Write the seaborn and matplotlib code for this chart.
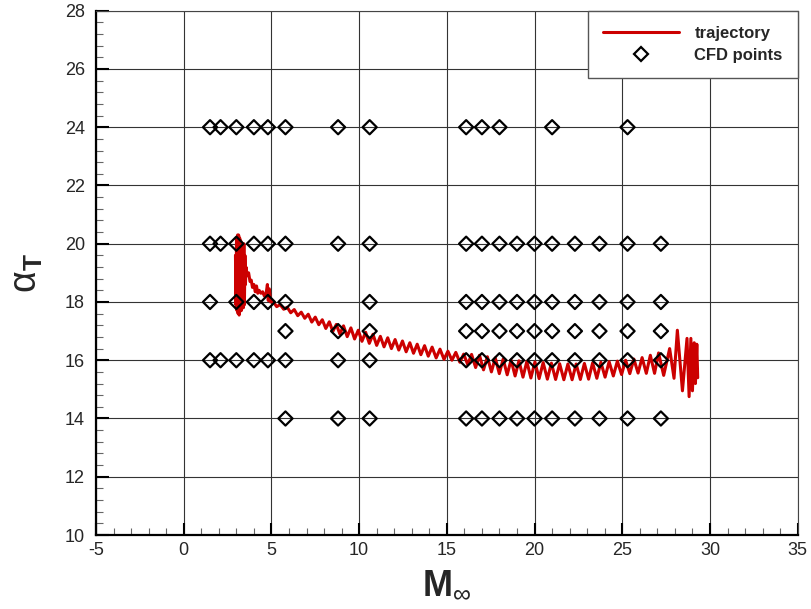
import numpy as np
import pandas as pd
import matplotlib
matplotlib.use("Agg")
import matplotlib.pyplot as plt
import seaborn as sns
from matplotlib.lines import Line2D
from matplotlib.ticker import MultipleLocator

# ---------------- data ----------------
# CFD sample points: Mach numbers for each angle-of-attack row
cfd_row_24 = [1.5, 2.1, 3.0, 4.0, 4.8, 5.8, 8.8, 10.6, 16.1, 17.0, 18.0, 21.0, 25.3]
cfd_row_20 = [1.5, 2.1, 3.0, 4.0, 4.8, 5.8, 8.8, 10.6, 16.1, 17.0, 18.0, 19.0, 20.0, 21.0, 22.3, 23.7, 25.3, 27.2]
cfd_row_18 = [1.5, 3.0, 4.0, 4.8, 5.8, 10.6, 16.1, 17.0, 18.0, 19.0, 20.0, 21.0, 22.3, 23.7, 25.3, 27.2]
cfd_row_17 = [5.8, 8.8, 10.6, 16.1, 17.0, 18.0, 19.0, 20.0, 21.0, 22.3, 23.7, 25.3, 27.2]
cfd_row_16 = [1.5, 2.1, 3.0, 4.0, 4.8, 5.8, 8.8, 10.6, 16.1, 17.0, 18.0, 19.0, 20.0, 21.0, 22.3, 23.7, 25.3, 27.2]
cfd_row_14 = [5.8, 8.8, 10.6, 16.1, 17.0, 18.0, 19.0, 20.0, 21.0, 22.3, 23.7, 25.3, 27.2]
cfd_alpha_levels = [24, 20, 18, 17, 16, 14]

# trajectory (Mach, total angle of attack)
traj_mach = [
    2.95, 2.98, 3.01, 3.04, 3.07, 3.10, 3.13, 3.16, 3.19, 3.22, 3.25, 3.28, 3.31, 3.34, 3.37, 3.40,
    3.43, 3.46, 3.49, 3.52,
    3.55, 3.62, 3.70, 3.78, 3.85, 3.92, 4.00, 4.08, 4.15, 4.22, 4.30, 4.40, 4.50, 4.60, 4.70, 4.77,
    4.82, 4.88, 4.95,
    5.10, 5.30, 5.50, 5.70, 5.90, 6.10, 6.30, 6.50, 6.70, 6.90, 7.10, 7.30, 7.50, 7.70, 7.90, 8.10,
    8.30, 8.50, 8.70, 8.90,
    9.11, 9.32, 9.53, 9.74, 9.95, 10.16, 10.37, 10.58, 10.79, 11.00, 11.21, 11.42, 11.63, 11.84,
    12.05, 12.26, 12.47, 12.68, 12.89, 13.10, 13.31, 13.52, 13.73, 13.94,
    14.16, 14.39, 14.61, 14.84, 15.06, 15.29, 15.51, 15.74, 15.96, 16.19, 16.41, 16.64, 16.86,
    17.09, 17.31, 17.54, 17.76, 17.99, 18.21, 18.44, 18.66, 18.89, 19.11, 19.34, 19.56, 19.79,
    20.02, 20.26, 20.49, 20.73, 20.96, 21.20, 21.43, 21.67, 21.90, 22.14, 22.37, 22.61, 22.84,
    23.08, 23.31, 23.55, 23.78, 24.02, 24.25, 24.49, 24.72, 24.96, 25.19, 25.43, 25.66, 25.90,
    26.13, 26.37, 26.60, 26.84, 27.07, 27.36,
    27.70, 27.95, 28.14, 28.43, 28.69, 28.81, 28.91, 29.00, 29.10, 29.17, 29.25, 29.30,
]
traj_alpha = [
    19.60, 17.90, 20.20, 17.70, 20.30, 17.60, 20.30, 17.55, 20.20, 17.80, 20.10, 17.70, 20.00, 17.90,
    19.90, 17.80, 20.00, 17.90, 19.60, 18.60,
    19.20, 18.90, 19.00, 18.70, 18.75, 18.50, 18.60, 18.35, 18.55, 18.30, 18.40, 18.30, 18.35, 18.20,
    18.30, 18.60, 18.05, 18.45, 18.00,
    18.01, 17.84, 17.91, 17.75, 17.82, 17.63, 17.74, 17.53, 17.65, 17.44, 17.58, 17.31, 17.48, 17.22,
    17.39, 17.09, 17.32, 16.99, 17.23, 16.90,
    17.18, 16.81, 17.11, 16.73, 17.03, 16.65, 16.96, 16.58, 16.89, 16.51, 16.82, 16.46, 16.77, 16.40,
    16.71, 16.35, 16.66, 16.29, 16.60, 16.24, 16.55, 16.19, 16.50, 16.14,
    16.45, 16.08, 16.38, 16.03, 16.31, 16.00, 16.27, 15.93, 16.21, 15.85, 16.20, 15.75, 16.17,
    15.67, 16.12, 15.60, 16.08, 15.54, 16.04, 15.50, 16.01, 15.46, 15.98, 15.42, 15.96, 15.39,
    15.94, 15.37, 15.92, 15.35, 15.90, 15.34, 15.88, 15.33, 15.87, 15.33, 15.87, 15.34, 15.89,
    15.35, 15.91, 15.38, 15.93, 15.42, 15.95, 15.46, 15.97, 15.51, 16.00, 15.54, 16.04, 15.56,
    16.09, 15.55, 16.17, 15.55, 16.25, 15.48,
    16.40, 15.38, 17.03, 14.95, 16.75, 14.75, 16.75, 14.95, 16.60, 15.20, 16.55, 15.40,
]

xticks = [-5, 0, 5, 10, 15, 20, 25, 30, 35]
yticks = [10, 12, 14, 16, 18, 20, 22, 24, 26, 28]

# ---------------- style ----------------
sns.set_style("white")
plt.rcParams["font.family"] = ["Liberation Sans", "DejaVu Sans"]
plt.rcParams["axes.unicode_minus"] = False
plt.rcParams["mathtext.fontset"] = "custom"
plt.rcParams["mathtext.rm"] = "Liberation Sans"
plt.rcParams["mathtext.bf"] = "Liberation Sans:bold"
plt.rcParams["mathtext.it"] = "Liberation Sans:italic"

rows = [cfd_row_24, cfd_row_20, cfd_row_18, cfd_row_17, cfd_row_16, cfd_row_14]
cfd = pd.DataFrame({
    "M": [m for r in rows for m in r],
    "alpha": [a for r, a in zip(rows, cfd_alpha_levels) for _ in r],
})
traj = pd.DataFrame({"M": traj_mach, "alpha": traj_alpha})

fig = plt.figure(figsize=(8.12, 6.09), dpi=100)
ax = fig.add_axes([96 / 812, 1 - 535 / 609, (797.7 - 96) / 812, (535 - 10.7) / 609])

sns.lineplot(data=traj, x="M", y="alpha", sort=False, estimator=None,
             color="#cc0000", lw=2.2, ax=ax, zorder=3)
sns.scatterplot(data=cfd, x="M", y="alpha", marker="D", s=52,
                facecolor="none", edgecolor="black", linewidth=1.6, ax=ax, zorder=4)

ax.set_xlim(-5, 35)
ax.set_ylim(10, 28)
ax.set_xticks(xticks)
ax.set_yticks(yticks)
ax.xaxis.set_minor_locator(MultipleLocator(1))
ax.yaxis.set_minor_locator(MultipleLocator(0.4))
ax.grid(True, which="major", color="#333333", lw=0.8)
ax.set_axisbelow(True)

ax.tick_params(which="both", direction="in", top=False, right=False, bottom=True, left=True)
ax.tick_params(which="major", length=9, width=1.5, color="black", labelsize=13)
ax.tick_params(which="minor", length=5, width=0.8, color="#666666")
ax.tick_params(axis="x", which="major", pad=5)
ax.tick_params(axis="y", which="major", pad=8)

for s in ["left", "bottom"]:
    ax.spines[s].set_linewidth(1.6)
    ax.spines[s].set_color("black")
for s in ["top", "right"]:
    ax.spines[s].set_linewidth(0.8)
    ax.spines[s].set_color("#444444")

ax.set_xlabel(r"$\mathbf{M}_{\infty}$", fontsize=26, labelpad=6)
ax.set_ylabel(r"$\mathrm{\alpha}_{\mathbf{T}}$", fontsize=27, labelpad=14)

handles = [
    Line2D([0], [0], color="#cc0000", lw=2.2),
    Line2D([0], [0], marker="D", ls="none", mfc="none", mec="black", ms=7, mew=1.6),
]
leg = ax.legend(handles, ["trajectory", "CFD points"], loc="upper right",
                bbox_to_anchor=(1, 1), borderaxespad=0, frameon=True, fancybox=False,
                prop={"weight": "bold", "size": 12}, handlelength=4.6, handletextpad=0.9,
                labelspacing=0.45, borderpad=0.9, numpoints=1)
leg.get_frame().set_edgecolor("#555555")
leg.get_frame().set_linewidth(1.0)
leg.get_frame().set_facecolor("white")
leg.get_frame().set_alpha(1)

fig.savefig("out.png", dpi=100)
